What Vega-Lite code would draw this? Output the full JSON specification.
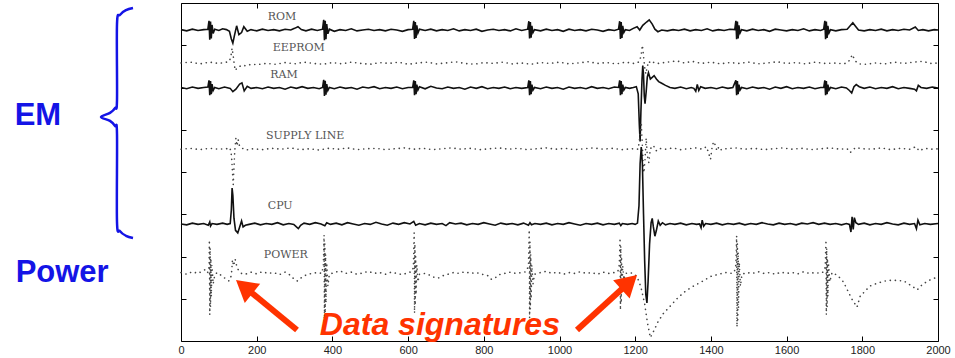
{
"$schema": "https://vega.github.io/schema/vega-lite/v6.json",
"width": 757, "height": 338,
"autosize": {"type": "none"},
"padding": {"left": 181, "top": 3, "right": 17, "bottom": 17},
"background": "white",
"config": {"view": {"stroke": "#000", "strokeWidth": 1}},
"resolve": {"axis": {"x": "independent", "y": "independent"}},
"datasets": {
"rom": [{"x":0,"y":7.37},{"x":15,"y":7.34},{"x":30,"y":7.38},{"x":45,"y":7.35},{"x":60,"y":7.37},{"x":71,"y":7.38},{"x":74,"y":7.58},{"x":76,"y":7.13},{"x":78,"y":7.56},{"x":80,"y":7.16},{"x":82,"y":7.48},{"x":85,"y":7.28},{"x":89,"y":7.38},{"x":100,"y":7.35},{"x":110,"y":7.39},{"x":120,"y":7.37},{"x":128,"y":7.33},{"x":133,"y":7.15},{"x":137,"y":7.05},{"x":141,"y":7.22},{"x":147,"y":7.46},{"x":153,"y":7.25},{"x":160,"y":7.3},{"x":166,"y":7.44},{"x":175,"y":7.33},{"x":185,"y":7.37},{"x":200,"y":7.34},{"x":215,"y":7.38},{"x":230,"y":7.35},{"x":245,"y":7.37},{"x":260,"y":7.34},{"x":275,"y":7.38},{"x":290,"y":7.36},{"x":300,"y":7.4},{"x":309,"y":7.44},{"x":318,"y":7.37},{"x":330,"y":7.34},{"x":345,"y":7.38},{"x":360,"y":7.35},{"x":374,"y":7.38},{"x":377,"y":7.6},{"x":379,"y":7.12},{"x":381,"y":7.58},{"x":383,"y":7.14},{"x":385,"y":7.5},{"x":388,"y":7.27},{"x":392,"y":7.38},{"x":405,"y":7.33},{"x":420,"y":7.37},{"x":435,"y":7.35},{"x":450,"y":7.39},{"x":465,"y":7.34},{"x":480,"y":7.36},{"x":495,"y":7.38},{"x":510,"y":7.35},{"x":525,"y":7.37},{"x":540,"y":7.34},{"x":555,"y":7.38},{"x":570,"y":7.36},{"x":585,"y":7.33},{"x":600,"y":7.37},{"x":612,"y":7.38},{"x":615,"y":7.58},{"x":617,"y":7.15},{"x":619,"y":7.55},{"x":621,"y":7.17},{"x":623,"y":7.47},{"x":626,"y":7.29},{"x":630,"y":7.38},{"x":645,"y":7.35},{"x":660,"y":7.38},{"x":675,"y":7.34},{"x":690,"y":7.37},{"x":705,"y":7.35},{"x":720,"y":7.39},{"x":735,"y":7.34},{"x":750,"y":7.37},{"x":765,"y":7.35},{"x":780,"y":7.38},{"x":795,"y":7.33},{"x":810,"y":7.36},{"x":825,"y":7.38},{"x":840,"y":7.35},{"x":855,"y":7.37},{"x":870,"y":7.34},{"x":885,"y":7.39},{"x":900,"y":7.35},{"x":916,"y":7.38},{"x":919,"y":7.57},{"x":921,"y":7.16},{"x":923,"y":7.55},{"x":925,"y":7.18},{"x":927,"y":7.46},{"x":930,"y":7.3},{"x":934,"y":7.37},{"x":950,"y":7.34},{"x":965,"y":7.38},{"x":980,"y":7.35},{"x":995,"y":7.37},{"x":1010,"y":7.33},{"x":1025,"y":7.38},{"x":1040,"y":7.35},{"x":1055,"y":7.37},{"x":1070,"y":7.34},{"x":1085,"y":7.38},{"x":1100,"y":7.36},{"x":1115,"y":7.33},{"x":1130,"y":7.37},{"x":1145,"y":7.35},{"x":1156,"y":7.38},{"x":1159,"y":7.57},{"x":1161,"y":7.15},{"x":1163,"y":7.55},{"x":1165,"y":7.17},{"x":1167,"y":7.46},{"x":1170,"y":7.3},{"x":1174,"y":7.37},{"x":1185,"y":7.35},{"x":1195,"y":7.4},{"x":1205,"y":7.44},{"x":1212,"y":7.36},{"x":1220,"y":7.47},{"x":1230,"y":7.55},{"x":1237,"y":7.6},{"x":1245,"y":7.5},{"x":1252,"y":7.38},{"x":1260,"y":7.32},{"x":1270,"y":7.36},{"x":1285,"y":7.34},{"x":1300,"y":7.37},{"x":1315,"y":7.35},{"x":1330,"y":7.38},{"x":1345,"y":7.34},{"x":1360,"y":7.37},{"x":1375,"y":7.35},{"x":1390,"y":7.39},{"x":1405,"y":7.34},{"x":1420,"y":7.37},{"x":1435,"y":7.35},{"x":1450,"y":7.38},{"x":1463,"y":7.37},{"x":1466,"y":7.58},{"x":1468,"y":7.14},{"x":1470,"y":7.56},{"x":1472,"y":7.16},{"x":1474,"y":7.47},{"x":1477,"y":7.29},{"x":1481,"y":7.37},{"x":1495,"y":7.34},{"x":1510,"y":7.38},{"x":1525,"y":7.35},{"x":1540,"y":7.37},{"x":1555,"y":7.33},{"x":1570,"y":7.38},{"x":1585,"y":7.36},{"x":1600,"y":7.34},{"x":1615,"y":7.37},{"x":1630,"y":7.35},{"x":1645,"y":7.39},{"x":1660,"y":7.34},{"x":1675,"y":7.37},{"x":1690,"y":7.35},{"x":1698,"y":7.38},{"x":1701,"y":7.58},{"x":1703,"y":7.14},{"x":1705,"y":7.56},{"x":1707,"y":7.17},{"x":1709,"y":7.46},{"x":1712,"y":7.29},{"x":1716,"y":7.37},{"x":1730,"y":7.34},{"x":1745,"y":7.37},{"x":1760,"y":7.38},{"x":1768,"y":7.46},{"x":1775,"y":7.53},{"x":1782,"y":7.45},{"x":1790,"y":7.36},{"x":1805,"y":7.34},{"x":1820,"y":7.37},{"x":1835,"y":7.35},{"x":1850,"y":7.38},{"x":1865,"y":7.34},{"x":1880,"y":7.37},{"x":1895,"y":7.35},{"x":1910,"y":7.38},{"x":1925,"y":7.36},{"x":1940,"y":7.43},{"x":1948,"y":7.35},{"x":1960,"y":7.37},{"x":1975,"y":7.34},{"x":1990,"y":7.37},{"x":2000,"y":7.36}],
"eep": [{"x":0,"y":6.58},{"x":25,"y":6.6},{"x":50,"y":6.56},{"x":75,"y":6.6},{"x":100,"y":6.57},{"x":120,"y":6.6},{"x":128,"y":6.62},{"x":132,"y":6.75},{"x":135,"y":6.93},{"x":138,"y":6.75},{"x":141,"y":6.52},{"x":144,"y":6.4},{"x":148,"y":6.47},{"x":155,"y":6.5},{"x":163,"y":6.53},{"x":172,"y":6.51},{"x":185,"y":6.55},{"x":200,"y":6.54},{"x":225,"y":6.57},{"x":250,"y":6.55},{"x":275,"y":6.59},{"x":300,"y":6.56},{"x":325,"y":6.6},{"x":350,"y":6.57},{"x":375,"y":6.55},{"x":400,"y":6.59},{"x":425,"y":6.56},{"x":450,"y":6.6},{"x":475,"y":6.57},{"x":500,"y":6.55},{"x":525,"y":6.59},{"x":550,"y":6.57},{"x":575,"y":6.6},{"x":600,"y":6.55},{"x":625,"y":6.58},{"x":650,"y":6.6},{"x":675,"y":6.56},{"x":700,"y":6.58},{"x":725,"y":6.61},{"x":750,"y":6.57},{"x":775,"y":6.55},{"x":800,"y":6.59},{"x":825,"y":6.57},{"x":850,"y":6.6},{"x":875,"y":6.56},{"x":900,"y":6.58},{"x":925,"y":6.55},{"x":950,"y":6.59},{"x":975,"y":6.57},{"x":1000,"y":6.6},{"x":1025,"y":6.56},{"x":1050,"y":6.58},{"x":1075,"y":6.61},{"x":1100,"y":6.57},{"x":1125,"y":6.59},{"x":1150,"y":6.56},{"x":1175,"y":6.6},{"x":1195,"y":6.57},{"x":1205,"y":6.58},{"x":1212,"y":6.62},{"x":1216,"y":6.8},{"x":1219,"y":7.0},{"x":1222,"y":6.75},{"x":1225,"y":6.48},{"x":1228,"y":6.32},{"x":1232,"y":6.5},{"x":1236,"y":6.62},{"x":1242,"y":6.56},{"x":1250,"y":6.6},{"x":1260,"y":6.57},{"x":1285,"y":6.6},{"x":1310,"y":6.63},{"x":1330,"y":6.58},{"x":1350,"y":6.62},{"x":1375,"y":6.57},{"x":1400,"y":6.6},{"x":1425,"y":6.56},{"x":1450,"y":6.59},{"x":1475,"y":6.57},{"x":1500,"y":6.6},{"x":1525,"y":6.56},{"x":1550,"y":6.58},{"x":1575,"y":6.61},{"x":1600,"y":6.57},{"x":1625,"y":6.59},{"x":1650,"y":6.56},{"x":1675,"y":6.6},{"x":1700,"y":6.57},{"x":1725,"y":6.58},{"x":1750,"y":6.56},{"x":1762,"y":6.59},{"x":1768,"y":6.68},{"x":1774,"y":6.78},{"x":1780,"y":6.64},{"x":1790,"y":6.56},{"x":1810,"y":6.55},{"x":1835,"y":6.58},{"x":1860,"y":6.56},{"x":1885,"y":6.6},{"x":1910,"y":6.57},{"x":1935,"y":6.6},{"x":1960,"y":6.62},{"x":1980,"y":6.57},{"x":2000,"y":6.58}],
"ram": [{"x":0,"y":6.0},{"x":15,"y":5.97},{"x":30,"y":6.01},{"x":45,"y":5.98},{"x":60,"y":6.0},{"x":71,"y":6.01},{"x":74,"y":6.17},{"x":76,"y":5.82},{"x":78,"y":6.15},{"x":80,"y":5.84},{"x":82,"y":6.08},{"x":85,"y":5.93},{"x":89,"y":6.0},{"x":100,"y":5.97},{"x":115,"y":6.01},{"x":130,"y":5.98},{"x":137,"y":5.9},{"x":145,"y":5.96},{"x":155,"y":6.08},{"x":161,"y":6.11},{"x":167,"y":5.92},{"x":175,"y":6.03},{"x":185,"y":5.98},{"x":200,"y":6.0},{"x":215,"y":5.97},{"x":230,"y":6.01},{"x":245,"y":5.98},{"x":260,"y":6.0},{"x":275,"y":5.96},{"x":290,"y":6.01},{"x":305,"y":5.98},{"x":320,"y":6.02},{"x":335,"y":5.98},{"x":350,"y":6.0},{"x":365,"y":5.97},{"x":374,"y":6.0},{"x":377,"y":6.18},{"x":379,"y":5.8},{"x":381,"y":6.16},{"x":383,"y":5.83},{"x":385,"y":6.08},{"x":388,"y":5.93},{"x":392,"y":6.0},{"x":405,"y":5.97},{"x":420,"y":6.01},{"x":435,"y":5.98},{"x":450,"y":6.0},{"x":465,"y":5.96},{"x":480,"y":6.01},{"x":495,"y":5.99},{"x":510,"y":6.02},{"x":525,"y":5.97},{"x":540,"y":6.0},{"x":555,"y":5.98},{"x":570,"y":6.01},{"x":585,"y":5.97},{"x":600,"y":6.0},{"x":612,"y":6.0},{"x":615,"y":6.17},{"x":617,"y":5.82},{"x":619,"y":6.15},{"x":621,"y":5.84},{"x":623,"y":6.07},{"x":626,"y":5.94},{"x":630,"y":6.02},{"x":645,"y":5.97},{"x":660,"y":6.03},{"x":675,"y":5.99},{"x":690,"y":5.97},{"x":705,"y":6.01},{"x":720,"y":5.98},{"x":735,"y":6.0},{"x":750,"y":5.96},{"x":765,"y":6.01},{"x":780,"y":5.98},{"x":795,"y":6.02},{"x":810,"y":5.97},{"x":825,"y":6.0},{"x":840,"y":5.98},{"x":855,"y":6.01},{"x":870,"y":5.97},{"x":885,"y":6.0},{"x":900,"y":5.98},{"x":916,"y":6.0},{"x":919,"y":6.17},{"x":921,"y":5.82},{"x":923,"y":6.15},{"x":925,"y":5.84},{"x":927,"y":6.07},{"x":930,"y":5.94},{"x":934,"y":6.0},{"x":950,"y":5.97},{"x":965,"y":6.01},{"x":980,"y":5.98},{"x":995,"y":6.0},{"x":1010,"y":5.96},{"x":1025,"y":6.01},{"x":1040,"y":5.98},{"x":1055,"y":6.0},{"x":1070,"y":5.97},{"x":1085,"y":6.02},{"x":1100,"y":5.98},{"x":1115,"y":6.0},{"x":1130,"y":5.97},{"x":1145,"y":6.01},{"x":1156,"y":6.0},{"x":1159,"y":6.17},{"x":1161,"y":5.82},{"x":1163,"y":6.15},{"x":1165,"y":5.84},{"x":1167,"y":6.07},{"x":1170,"y":5.94},{"x":1174,"y":6.0},{"x":1185,"y":5.98},{"x":1195,"y":6.0},{"x":1203,"y":6.02},{"x":1208,"y":5.85},{"x":1211,"y":5.1},{"x":1213,"y":4.72},{"x":1215,"y":5.4},{"x":1218,"y":6.2},{"x":1220,"y":6.52},{"x":1222,"y":6.3},{"x":1224,"y":5.8},{"x":1226,"y":5.62},{"x":1229,"y":5.9},{"x":1232,"y":6.25},{"x":1235,"y":6.35},{"x":1240,"y":6.2},{"x":1245,"y":6.24},{"x":1250,"y":6.28},{"x":1256,"y":6.2},{"x":1262,"y":6.14},{"x":1270,"y":6.1},{"x":1280,"y":6.05},{"x":1292,"y":6.0},{"x":1305,"y":5.98},{"x":1320,"y":6.01},{"x":1335,"y":5.97},{"x":1348,"y":6.0},{"x":1355,"y":5.98},{"x":1360,"y":5.91},{"x":1364,"y":6.07},{"x":1368,"y":5.93},{"x":1373,"y":6.02},{"x":1385,"y":5.98},{"x":1400,"y":6.0},{"x":1415,"y":5.97},{"x":1430,"y":6.01},{"x":1445,"y":5.98},{"x":1458,"y":6.0},{"x":1466,"y":6.17},{"x":1468,"y":5.82},{"x":1470,"y":6.15},{"x":1472,"y":5.84},{"x":1474,"y":6.07},{"x":1477,"y":5.94},{"x":1481,"y":6.0},{"x":1495,"y":5.97},{"x":1510,"y":6.01},{"x":1525,"y":5.98},{"x":1540,"y":6.0},{"x":1555,"y":5.96},{"x":1570,"y":6.01},{"x":1585,"y":5.98},{"x":1600,"y":6.02},{"x":1615,"y":5.97},{"x":1630,"y":6.0},{"x":1645,"y":5.98},{"x":1660,"y":6.01},{"x":1675,"y":5.97},{"x":1690,"y":6.0},{"x":1698,"y":6.0},{"x":1701,"y":6.17},{"x":1703,"y":5.82},{"x":1705,"y":6.15},{"x":1707,"y":5.84},{"x":1709,"y":6.07},{"x":1712,"y":5.94},{"x":1716,"y":6.0},{"x":1730,"y":5.97},{"x":1745,"y":6.01},{"x":1758,"y":5.99},{"x":1766,"y":5.93},{"x":1772,"y":5.87},{"x":1778,"y":6.02},{"x":1784,"y":6.07},{"x":1792,"y":6.02},{"x":1805,"y":5.98},{"x":1820,"y":6.01},{"x":1835,"y":5.97},{"x":1850,"y":6.0},{"x":1865,"y":5.98},{"x":1880,"y":6.02},{"x":1895,"y":5.97},{"x":1910,"y":6.0},{"x":1925,"y":5.98},{"x":1938,"y":5.96},{"x":1943,"y":5.92},{"x":1948,"y":6.05},{"x":1955,"y":6.0},{"x":1970,"y":5.98},{"x":1985,"y":6.01},{"x":2000,"y":5.99}],
"sup": [{"x":0,"y":4.54},{"x":25,"y":4.56},{"x":50,"y":4.53},{"x":75,"y":4.56},{"x":100,"y":4.54},{"x":120,"y":4.55},{"x":128,"y":4.58},{"x":132,"y":4.5},{"x":134,"y":4.3},{"x":136,"y":4.0},{"x":138,"y":3.7},{"x":140,"y":4.1},{"x":142,"y":4.5},{"x":145,"y":4.8},{"x":148,"y":4.62},{"x":151,"y":4.77},{"x":155,"y":4.6},{"x":162,"y":4.56},{"x":172,"y":4.52},{"x":190,"y":4.55},{"x":215,"y":4.53},{"x":240,"y":4.56},{"x":265,"y":4.54},{"x":290,"y":4.57},{"x":315,"y":4.53},{"x":340,"y":4.55},{"x":365,"y":4.52},{"x":390,"y":4.56},{"x":415,"y":4.54},{"x":440,"y":4.57},{"x":465,"y":4.53},{"x":490,"y":4.55},{"x":515,"y":4.56},{"x":540,"y":4.53},{"x":565,"y":4.55},{"x":590,"y":4.57},{"x":615,"y":4.54},{"x":640,"y":4.56},{"x":665,"y":4.53},{"x":690,"y":4.55},{"x":715,"y":4.57},{"x":740,"y":4.54},{"x":765,"y":4.56},{"x":790,"y":4.53},{"x":815,"y":4.55},{"x":840,"y":4.57},{"x":865,"y":4.54},{"x":890,"y":4.56},{"x":915,"y":4.53},{"x":940,"y":4.55},{"x":965,"y":4.57},{"x":990,"y":4.54},{"x":1015,"y":4.56},{"x":1040,"y":4.53},{"x":1065,"y":4.55},{"x":1090,"y":4.57},{"x":1115,"y":4.54},{"x":1140,"y":4.56},{"x":1165,"y":4.53},{"x":1190,"y":4.55},{"x":1208,"y":4.54},{"x":1213,"y":4.9},{"x":1216,"y":5.18},{"x":1219,"y":4.6},{"x":1221,"y":4.2},{"x":1223,"y":3.98},{"x":1226,"y":4.3},{"x":1229,"y":4.8},{"x":1232,"y":4.4},{"x":1236,"y":4.22},{"x":1240,"y":4.55},{"x":1248,"y":4.63},{"x":1255,"y":4.5},{"x":1262,"y":4.56},{"x":1280,"y":4.54},{"x":1300,"y":4.57},{"x":1320,"y":4.53},{"x":1340,"y":4.55},{"x":1360,"y":4.57},{"x":1378,"y":4.54},{"x":1388,"y":4.6},{"x":1394,"y":4.45},{"x":1399,"y":4.3},{"x":1403,"y":4.58},{"x":1407,"y":4.72},{"x":1411,"y":4.65},{"x":1416,"y":4.5},{"x":1421,"y":4.6},{"x":1428,"y":4.52},{"x":1440,"y":4.55},{"x":1465,"y":4.57},{"x":1490,"y":4.54},{"x":1515,"y":4.56},{"x":1540,"y":4.53},{"x":1565,"y":4.55},{"x":1590,"y":4.57},{"x":1615,"y":4.54},{"x":1640,"y":4.56},{"x":1665,"y":4.53},{"x":1690,"y":4.55},{"x":1715,"y":4.57},{"x":1740,"y":4.54},{"x":1760,"y":4.55},{"x":1768,"y":4.46},{"x":1775,"y":4.52},{"x":1782,"y":4.58},{"x":1800,"y":4.55},{"x":1825,"y":4.54},{"x":1850,"y":4.57},{"x":1875,"y":4.53},{"x":1900,"y":4.56},{"x":1925,"y":4.54},{"x":1942,"y":4.6},{"x":1950,"y":4.5},{"x":1965,"y":4.56},{"x":1985,"y":4.54},{"x":2000,"y":4.55}],
"cpu": [{"x":0,"y":2.77},{"x":15,"y":2.75},{"x":30,"y":2.79},{"x":45,"y":2.76},{"x":60,"y":2.78},{"x":72,"y":2.74},{"x":76,"y":2.82},{"x":78,"y":2.72},{"x":82,"y":2.78},{"x":95,"y":2.76},{"x":110,"y":2.79},{"x":122,"y":2.76},{"x":130,"y":2.78},{"x":133,"y":3.1},{"x":135,"y":3.62},{"x":137,"y":3.45},{"x":140,"y":2.9},{"x":144,"y":2.62},{"x":150,"y":2.56},{"x":155,"y":2.7},{"x":160,"y":2.84},{"x":164,"y":2.7},{"x":170,"y":2.74},{"x":180,"y":2.76},{"x":195,"y":2.79},{"x":210,"y":2.75},{"x":225,"y":2.78},{"x":240,"y":2.76},{"x":255,"y":2.8},{"x":270,"y":2.75},{"x":285,"y":2.78},{"x":298,"y":2.76},{"x":305,"y":2.7},{"x":310,"y":2.66},{"x":316,"y":2.74},{"x":325,"y":2.79},{"x":340,"y":2.76},{"x":355,"y":2.8},{"x":370,"y":2.77},{"x":380,"y":2.73},{"x":385,"y":2.8},{"x":395,"y":2.76},{"x":410,"y":2.79},{"x":425,"y":2.75},{"x":440,"y":2.8},{"x":455,"y":2.77},{"x":470,"y":2.74},{"x":485,"y":2.78},{"x":500,"y":2.76},{"x":515,"y":2.81},{"x":530,"y":2.77},{"x":545,"y":2.74},{"x":560,"y":2.79},{"x":575,"y":2.76},{"x":590,"y":2.8},{"x":605,"y":2.77},{"x":615,"y":2.83},{"x":620,"y":2.74},{"x":630,"y":2.78},{"x":645,"y":2.75},{"x":660,"y":2.79},{"x":675,"y":2.76},{"x":690,"y":2.78},{"x":700,"y":2.73},{"x":710,"y":2.8},{"x":725,"y":2.77},{"x":740,"y":2.79},{"x":755,"y":2.75},{"x":770,"y":2.78},{"x":785,"y":2.76},{"x":800,"y":2.8},{"x":815,"y":2.77},{"x":830,"y":2.74},{"x":845,"y":2.79},{"x":860,"y":2.76},{"x":875,"y":2.78},{"x":890,"y":2.75},{"x":905,"y":2.79},{"x":918,"y":2.74},{"x":922,"y":2.8},{"x":926,"y":2.75},{"x":935,"y":2.78},{"x":950,"y":2.76},{"x":965,"y":2.79},{"x":980,"y":2.75},{"x":995,"y":2.78},{"x":1010,"y":2.76},{"x":1025,"y":2.8},{"x":1040,"y":2.77},{"x":1055,"y":2.74},{"x":1070,"y":2.78},{"x":1085,"y":2.76},{"x":1100,"y":2.79},{"x":1115,"y":2.75},{"x":1130,"y":2.78},{"x":1145,"y":2.76},{"x":1158,"y":2.79},{"x":1162,"y":2.73},{"x":1166,"y":2.78},{"x":1180,"y":2.76},{"x":1192,"y":2.78},{"x":1200,"y":2.76},{"x":1206,"y":2.79},{"x":1210,"y":3.2},{"x":1213,"y":4.2},{"x":1216,"y":4.59},{"x":1219,"y":4.2},{"x":1222,"y":3.0},{"x":1225,"y":1.9},{"x":1228,"y":1.1},{"x":1231,"y":0.9},{"x":1234,"y":1.4},{"x":1238,"y":2.3},{"x":1242,"y":2.8},{"x":1245,"y":2.9},{"x":1248,"y":2.7},{"x":1252,"y":2.48},{"x":1256,"y":2.62},{"x":1261,"y":2.84},{"x":1266,"y":2.74},{"x":1272,"y":2.8},{"x":1280,"y":2.75},{"x":1292,"y":2.78},{"x":1305,"y":2.76},{"x":1320,"y":2.79},{"x":1335,"y":2.75},{"x":1350,"y":2.78},{"x":1362,"y":2.76},{"x":1370,"y":2.77},{"x":1374,"y":2.68},{"x":1377,"y":2.86},{"x":1381,"y":2.72},{"x":1386,"y":2.78},{"x":1400,"y":2.76},{"x":1415,"y":2.79},{"x":1430,"y":2.75},{"x":1445,"y":2.78},{"x":1460,"y":2.76},{"x":1475,"y":2.79},{"x":1490,"y":2.75},{"x":1505,"y":2.78},{"x":1520,"y":2.76},{"x":1535,"y":2.8},{"x":1550,"y":2.77},{"x":1565,"y":2.75},{"x":1580,"y":2.79},{"x":1595,"y":2.76},{"x":1610,"y":2.78},{"x":1625,"y":2.75},{"x":1640,"y":2.79},{"x":1655,"y":2.77},{"x":1670,"y":2.8},{"x":1685,"y":2.76},{"x":1700,"y":2.79},{"x":1715,"y":2.76},{"x":1730,"y":2.78},{"x":1745,"y":2.75},{"x":1758,"y":2.78},{"x":1766,"y":2.76},{"x":1770,"y":2.58},{"x":1773,"y":2.94},{"x":1776,"y":2.64},{"x":1779,"y":2.92},{"x":1783,"y":2.8},{"x":1790,"y":2.76},{"x":1805,"y":2.79},{"x":1820,"y":2.75},{"x":1835,"y":2.78},{"x":1850,"y":2.76},{"x":1865,"y":2.8},{"x":1880,"y":2.77},{"x":1895,"y":2.75},{"x":1910,"y":2.79},{"x":1925,"y":2.76},{"x":1938,"y":2.78},{"x":1943,"y":2.66},{"x":1947,"y":2.86},{"x":1952,"y":2.75},{"x":1965,"y":2.78},{"x":1980,"y":2.76},{"x":2000,"y":2.78}],
"pow": [{"x":0,"y":1.62},{"x":15,"y":1.58},{"x":30,"y":1.64},{"x":45,"y":1.6},{"x":58,"y":1.66},{"x":66,"y":1.7},{"x":71,"y":1.62},{"x":74,"y":1.75},{"x":75,"y":2.39},{"x":76,"y":0.62},{"x":77,"y":2.2},{"x":78,"y":0.8},{"x":79,"y":1.95},{"x":80,"y":1.05},{"x":82,"y":1.8},{"x":85,"y":1.35},{"x":89,"y":1.55},{"x":95,"y":1.62},{"x":105,"y":1.56},{"x":113,"y":1.5},{"x":120,"y":1.47},{"x":127,"y":1.42},{"x":133,"y":1.55},{"x":136,"y":1.92},{"x":139,"y":1.78},{"x":143,"y":1.94},{"x":148,"y":1.74},{"x":153,"y":1.66},{"x":160,"y":1.6},{"x":170,"y":1.58},{"x":185,"y":1.63},{"x":200,"y":1.59},{"x":215,"y":1.64},{"x":230,"y":1.6},{"x":245,"y":1.62},{"x":260,"y":1.57},{"x":275,"y":1.63},{"x":290,"y":1.55},{"x":300,"y":1.45},{"x":308,"y":1.42},{"x":318,"y":1.5},{"x":330,"y":1.56},{"x":345,"y":1.6},{"x":360,"y":1.62},{"x":372,"y":1.6},{"x":376,"y":1.78},{"x":378,"y":2.51},{"x":379,"y":0.4},{"x":380,"y":2.3},{"x":381,"y":0.6},{"x":382,"y":2.05},{"x":383,"y":0.9},{"x":385,"y":1.85},{"x":388,"y":1.3},{"x":392,"y":1.58},{"x":405,"y":1.62},{"x":420,"y":1.66},{"x":435,"y":1.6},{"x":450,"y":1.63},{"x":465,"y":1.58},{"x":480,"y":1.61},{"x":495,"y":1.65},{"x":510,"y":1.6},{"x":525,"y":1.62},{"x":540,"y":1.58},{"x":555,"y":1.63},{"x":570,"y":1.6},{"x":585,"y":1.57},{"x":600,"y":1.62},{"x":610,"y":1.64},{"x":614,"y":1.75},{"x":616,"y":2.56},{"x":617,"y":0.66},{"x":618,"y":2.3},{"x":619,"y":0.85},{"x":620,"y":2.0},{"x":621,"y":1.1},{"x":623,"y":1.8},{"x":626,"y":1.4},{"x":630,"y":1.58},{"x":645,"y":1.6},{"x":660,"y":1.55},{"x":670,"y":1.5},{"x":680,"y":1.49},{"x":690,"y":1.54},{"x":705,"y":1.58},{"x":720,"y":1.62},{"x":735,"y":1.6},{"x":750,"y":1.64},{"x":765,"y":1.6},{"x":780,"y":1.62},{"x":795,"y":1.58},{"x":810,"y":1.55},{"x":820,"y":1.46},{"x":828,"y":1.48},{"x":840,"y":1.57},{"x":855,"y":1.6},{"x":870,"y":1.63},{"x":885,"y":1.6},{"x":900,"y":1.62},{"x":912,"y":1.64},{"x":918,"y":1.78},{"x":920,"y":2.63},{"x":921,"y":0.54},{"x":922,"y":2.35},{"x":923,"y":0.75},{"x":924,"y":2.05},{"x":925,"y":1.0},{"x":927,"y":1.8},{"x":930,"y":1.35},{"x":934,"y":1.58},{"x":950,"y":1.62},{"x":965,"y":1.65},{"x":980,"y":1.6},{"x":995,"y":1.63},{"x":1010,"y":1.58},{"x":1025,"y":1.62},{"x":1040,"y":1.6},{"x":1055,"y":1.64},{"x":1070,"y":1.6},{"x":1085,"y":1.62},{"x":1100,"y":1.58},{"x":1115,"y":1.63},{"x":1130,"y":1.6},{"x":1145,"y":1.62},{"x":1154,"y":1.64},{"x":1158,"y":1.8},{"x":1160,"y":2.44},{"x":1161,"y":0.73},{"x":1162,"y":2.25},{"x":1163,"y":0.9},{"x":1164,"y":2.0},{"x":1165,"y":1.15},{"x":1167,"y":1.78},{"x":1170,"y":1.45},{"x":1174,"y":1.6},{"x":1185,"y":1.62},{"x":1195,"y":1.6},{"x":1205,"y":1.52},{"x":1215,"y":1.28},{"x":1225,"y":0.88},{"x":1232,"y":0.45},{"x":1240,"y":0.08},{"x":1248,"y":0.22},{"x":1260,"y":0.45},{"x":1275,"y":0.66},{"x":1290,"y":0.8},{"x":1310,"y":1.0},{"x":1330,"y":1.16},{"x":1350,"y":1.28},{"x":1375,"y":1.4},{"x":1400,"y":1.53},{"x":1420,"y":1.58},{"x":1440,"y":1.62},{"x":1455,"y":1.6},{"x":1462,"y":1.64},{"x":1466,"y":1.8},{"x":1468,"y":2.49},{"x":1469,"y":0.33},{"x":1470,"y":2.3},{"x":1471,"y":0.5},{"x":1472,"y":2.1},{"x":1473,"y":0.8},{"x":1475,"y":1.85},{"x":1478,"y":1.3},{"x":1482,"y":1.58},{"x":1495,"y":1.62},{"x":1510,"y":1.6},{"x":1525,"y":1.64},{"x":1540,"y":1.6},{"x":1555,"y":1.62},{"x":1570,"y":1.58},{"x":1585,"y":1.63},{"x":1600,"y":1.6},{"x":1615,"y":1.62},{"x":1630,"y":1.59},{"x":1645,"y":1.64},{"x":1660,"y":1.6},{"x":1675,"y":1.62},{"x":1690,"y":1.6},{"x":1698,"y":1.64},{"x":1702,"y":1.75},{"x":1704,"y":2.39},{"x":1705,"y":0.62},{"x":1706,"y":2.2},{"x":1707,"y":0.8},{"x":1708,"y":1.95},{"x":1709,"y":1.05},{"x":1711,"y":1.8},{"x":1714,"y":1.4},{"x":1720,"y":1.62},{"x":1735,"y":1.55},{"x":1750,"y":1.4},{"x":1760,"y":1.22},{"x":1772,"y":1.0},{"x":1786,"y":0.8},{"x":1795,"y":1.08},{"x":1803,"y":1.14},{"x":1820,"y":1.3},{"x":1840,"y":1.37},{"x":1860,"y":1.42},{"x":1880,"y":1.44},{"x":1910,"y":1.42},{"x":1934,"y":1.28},{"x":1945,"y":1.21},{"x":1960,"y":1.35},{"x":1980,"y":1.45},{"x":2000,"y":1.52}],
"labels": [{"t":"ROM","x":267,"y":7.67},{"t":"EEPROM","x":311,"y":6.93},{"t":"RAM","x":272,"y":6.3},{"t":"SUPPLY LINE","x":328,"y":4.85},{"t":"CPU","x":262,"y":3.2},{"t":"POWER","x":277,"y":2.04}],
"side": [{"t":"EM","x":-378,"y":5.33},{"t":"Power","x":-314,"y":1.61}],
"sig": [{"t":"Data signatures","x":684,"y":0.14}],
"brace": [{"i":0,"x":-126.8,"y":7.88},{"i":1,"x":-145.3,"y":7.83},{"i":2,"x":-161.2,"y":7.72},{"i":3,"x":-169.1,"y":7.5},{"i":4,"x":-169.1,"y":5.7},{"i":5,"x":-174.4,"y":5.51},{"i":6,"x":-187.6,"y":5.4},{"i":7,"x":-211.4,"y":5.3},{"i":8,"x":-187.6,"y":5.21},{"i":9,"x":-174.4,"y":5.09},{"i":10,"x":-169.1,"y":4.9},{"i":11,"x":-169.1,"y":2.82},{"i":12,"x":-161.2,"y":2.6},{"i":13,"x":-145.3,"y":2.49},{"i":14,"x":-126.8,"y":2.44}],
"arrows": [{"a":1,"x":306.5,"y":0.26},{"a":1,"x":167,"y":1.285},{"a":2,"x":1046.2,"y":0.26},{"a":2,"x":1184.2,"y":1.392}],
"head1": [{"x":167,"y":1.285}],
"head2": [{"x":1184.2,"y":1.392}]
},
"layer": [
{"data": {"name": "rom"}, "mark": {"type": "line", "color": "#111", "strokeWidth": 1.6},
 "encoding": {
  "x": {"field": "x", "type": "quantitative", "scale": {"domain": [0, 2000], "nice": false, "zero": false},
   "axis": {"orient": "bottom", "values": [0,200,400,600,800,1000,1200,1400,1600,1800,2000], "format": "d", "domain": false, "grid": false, "tickSize": -5, "tickColor": "#000", "labelFont": "Liberation Sans", "labelFontSize": 11, "labelColor": "#222", "labelPadding": 8, "labelFlush": false, "title": null}},
  "y": {"field": "y", "type": "quantitative", "scale": {"domain": [0, 8], "nice": false, "zero": false},
   "axis": {"orient": "left", "values": [1,2,3,4,5,6,7], "labels": false, "domain": false, "grid": false, "tickSize": -5, "tickColor": "#000", "title": null}}}},
{"data": {"name": "eep"}, "mark": {"type": "line", "color": "#444", "strokeWidth": 1.6, "strokeDash": [0.1, 5], "strokeCap": "round"},
 "encoding": {
  "x": {"field": "x", "type": "quantitative", "scale": {"domain": [0, 2000], "nice": false, "zero": false},
   "axis": {"orient": "top", "values": [0,200,400,600,800,1000,1200,1400,1600,1800,2000], "labels": false, "domain": false, "grid": false, "tickSize": -5, "tickColor": "#000", "title": null}},
  "y": {"field": "y", "type": "quantitative", "scale": {"domain": [0, 8], "nice": false, "zero": false},
   "axis": {"orient": "right", "values": [1,2,3,4,5,6,7], "labels": false, "domain": false, "grid": false, "tickSize": -5, "tickColor": "#000", "title": null}}}},
{"data": {"name": "ram"}, "mark": {"type": "line", "color": "#111", "strokeWidth": 1.6},
 "encoding": {"x": {"field": "x", "type": "quantitative", "scale": {"domain": [0, 2000], "nice": false, "zero": false}, "axis": null},
  "y": {"field": "y", "type": "quantitative", "scale": {"domain": [0, 8], "nice": false, "zero": false}, "axis": null}}},
{"data": {"name": "sup"}, "mark": {"type": "line", "color": "#444", "strokeWidth": 1.6, "strokeDash": [0.1, 5], "strokeCap": "round"},
 "encoding": {"x": {"field": "x", "type": "quantitative", "scale": {"domain": [0, 2000], "nice": false, "zero": false}, "axis": null},
  "y": {"field": "y", "type": "quantitative", "scale": {"domain": [0, 8], "nice": false, "zero": false}, "axis": null}}},
{"data": {"name": "cpu"}, "mark": {"type": "line", "color": "#111", "strokeWidth": 1.6},
 "encoding": {"x": {"field": "x", "type": "quantitative", "scale": {"domain": [0, 2000], "nice": false, "zero": false}, "axis": null},
  "y": {"field": "y", "type": "quantitative", "scale": {"domain": [0, 8], "nice": false, "zero": false}, "axis": null}}},
{"data": {"name": "pow"}, "mark": {"type": "line", "color": "#444", "strokeWidth": 1.6, "strokeDash": [0.1, 5], "strokeCap": "round"},
 "encoding": {"x": {"field": "x", "type": "quantitative", "scale": {"domain": [0, 2000], "nice": false, "zero": false}, "axis": null},
  "y": {"field": "y", "type": "quantitative", "scale": {"domain": [0, 8], "nice": false, "zero": false}, "axis": null}}},
{"data": {"name": "labels"}, "mark": {"type": "text", "font": "DejaVu Serif", "fontSize": 11, "color": "#555", "align": "center", "baseline": "middle"},
 "encoding": {"x": {"field": "x", "type": "quantitative", "scale": {"domain": [0, 2000], "nice": false, "zero": false}, "axis": null},
  "y": {"field": "y", "type": "quantitative", "scale": {"domain": [0, 8], "nice": false, "zero": false}, "axis": null},
  "text": {"field": "t"}}},
{"data": {"name": "side"}, "mark": {"type": "text", "font": "Liberation Sans", "fontWeight": "bold", "fontSize": 31, "color": "#1414e6", "align": "center", "baseline": "middle", "clip": false},
 "encoding": {"x": {"field": "x", "type": "quantitative", "scale": {"domain": [0, 2000], "nice": false, "zero": false}, "axis": null},
  "y": {"field": "y", "type": "quantitative", "scale": {"domain": [0, 8], "nice": false, "zero": false}, "axis": null},
  "text": {"field": "t"}}},
{"data": {"name": "brace"}, "mark": {"type": "line", "color": "#1414e6", "strokeWidth": 2.5, "interpolate": "cardinal", "clip": false},
 "encoding": {"x": {"field": "x", "type": "quantitative", "scale": {"domain": [0, 2000], "nice": false, "zero": false}, "axis": null},
  "y": {"field": "y", "type": "quantitative", "scale": {"domain": [0, 8], "nice": false, "zero": false}, "axis": null},
  "order": {"field": "i", "type": "quantitative"}}},
{"data": {"name": "arrows"}, "mark": {"type": "line", "color": "#ff3300", "strokeWidth": 6, "clip": false},
 "encoding": {"x": {"field": "x", "type": "quantitative", "scale": {"domain": [0, 2000], "nice": false, "zero": false}, "axis": null},
  "y": {"field": "y", "type": "quantitative", "scale": {"domain": [0, 8], "nice": false, "zero": false}, "axis": null},
  "detail": {"field": "a", "type": "nominal"}}},
{"data": {"name": "head1"}, "mark": {"type": "point", "shape": "triangle-up", "filled": true, "opacity": 1, "color": "#ff3300", "size": 600, "angle": 309, "clip": false},
 "encoding": {"x": {"field": "x", "type": "quantitative", "scale": {"domain": [0, 2000], "nice": false, "zero": false}, "axis": null},
  "y": {"field": "y", "type": "quantitative", "scale": {"domain": [0, 8], "nice": false, "zero": false}, "axis": null}}},
{"data": {"name": "head2"}, "mark": {"type": "point", "shape": "triangle-up", "filled": true, "opacity": 1, "color": "#ff3300", "size": 600, "angle": 47.5, "clip": false},
 "encoding": {"x": {"field": "x", "type": "quantitative", "scale": {"domain": [0, 2000], "nice": false, "zero": false}, "axis": null},
  "y": {"field": "y", "type": "quantitative", "scale": {"domain": [0, 8], "nice": false, "zero": false}, "axis": null}}},
{"data": {"name": "sig"}, "mark": {"type": "text", "font": "Liberation Sans", "fontWeight": "bold", "fontStyle": "italic", "fontSize": 32, "color": "#ff3300", "align": "center", "baseline": "alphabetic", "clip": false},
 "encoding": {"x": {"field": "x", "type": "quantitative", "scale": {"domain": [0, 2000], "nice": false, "zero": false}, "axis": null},
  "y": {"field": "y", "type": "quantitative", "scale": {"domain": [0, 8], "nice": false, "zero": false}, "axis": null},
  "text": {"field": "t"}}}
]
}
